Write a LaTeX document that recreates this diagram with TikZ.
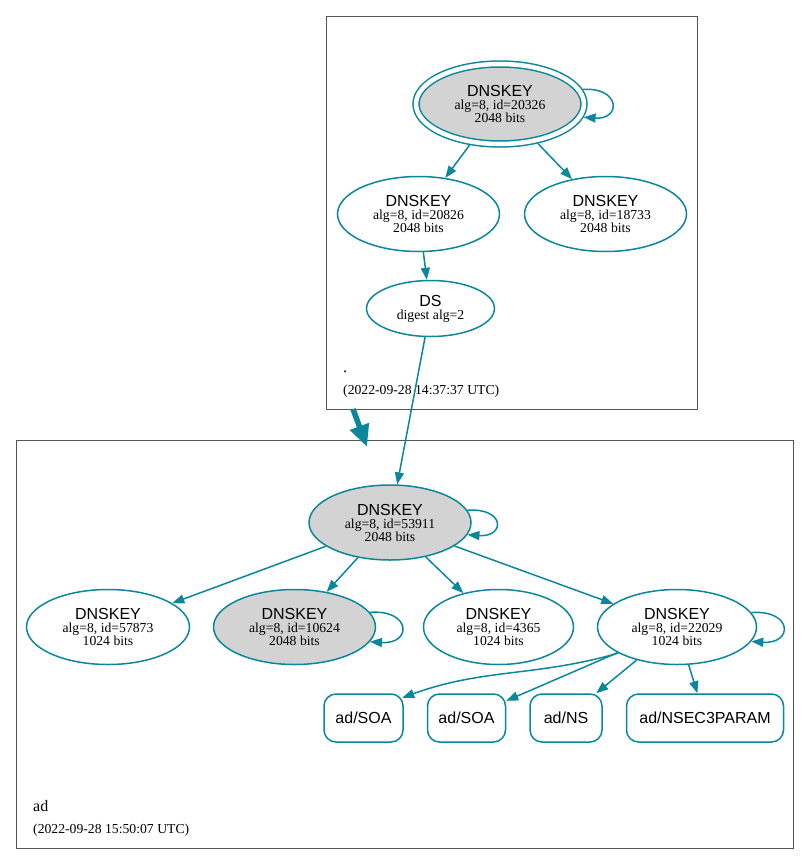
\documentclass[tikz,border=0pt]{standalone}
\usepackage{fontspec}
\setmainfont{Liberation Serif}
\setsansfont{Liberation Sans}
\usepackage{tikz}
\usetikzlibrary{arrows.meta,shapes.geometric,positioning}

\definecolor{dnsteal}{HTML}{0A879A}
\definecolor{zoneline}{HTML}{555555}
\definecolor{sepfill}{HTML}{D3D3D3}

\newcommand{\keylabel}[2]{{\sffamily\fontsize{16}{16}\selectfont DNSKEY}\\alg=8, id=#1\\#2 bits}

\begin{document}
\begin{tikzpicture}[x=1pt,y=-1pt,>={Triangle[length=12pt,width=9pt]},
  every node/.style={inner sep=0pt},
  dnskey/.style={ellipse,draw=dnsteal,line width=1.5pt,align=center,
    minimum width=162pt,minimum height=75pt,font=\fontsize{13.7}{13}\selectfont},
  sepkey/.style={fill=sepfill},
  rrset/.style={rectangle,rounded corners=12pt,draw=dnsteal,line width=1.5pt,
    minimum height=48pt,font=\sffamily\fontsize{16}{16}\selectfont},
  zone/.style={draw=zoneline,line width=0.9pt},
  zonelabel/.style={anchor=base west,font=\fontsize{16}{16}\selectfont},
  zonetime/.style={anchor=base west,font=\fontsize{13.7}{13}\selectfont},
  keyloop/.style={out=4,in=-4,distance=38pt},
  signs/.style={->,color=dnsteal,line width=1.5pt}]
  \useasboundingbox (0,0) rectangle (811,865);

  \draw[zone] (326,16) rectangle (697,409);
  \draw[zone] (16,440) rectangle (793,848);

  \node[dnskey,sepkey,double,double distance=4.5pt,outer sep=3.7pt,
        minimum width=168pt,minimum height=80pt] (kRoot) at (500,104) {\keylabel{20326}{2048}};
  \node[dnskey] (kZskA) at (418.5,214) {\keylabel{20826}{2048}};
  \node[dnskey] (kZskB) at (605.5,214) {\keylabel{18733}{2048}};
  \node[dnskey,minimum width=128pt,minimum height=56pt] (dsAd) at (430.5,308.5)
    {{\sffamily\fontsize{16}{16}\selectfont DS}\\digest alg=2};
  \node[zonelabel] (lRoot) at (343,372) {.};
  \node[zonetime] (tRoot) at (343,394) {(2022-09-28 14:37:37 UTC)};

  \node[dnskey,sepkey] (kAd) at (390,522.5) {\keylabel{53911}{2048}};
  \node[dnskey,minimum width=163pt] (kA) at (108,627) {\keylabel{57873}{1024}};
  \node[dnskey,sepkey] (kB) at (294.5,627) {\keylabel{10624}{2048}};
  \node[dnskey,minimum width=150pt] (kC) at (498.5,627) {\keylabel{4365}{1024}};
  \node[dnskey,minimum width=159pt] (kD) at (677,627) {\keylabel{22029}{1024}};

  \node[rrset,minimum width=79pt] (rSoaA) at (363.5,718) {ad/SOA};
  \node[rrset,minimum width=78pt,right=23pt of rSoaA] (rSoaB) {ad/SOA};
  \node[rrset,minimum width=72pt,right=23pt of rSoaB] (rNs) {ad/NS};
  \node[rrset,minimum width=157pt,right=23pt of rNs] (rParam) {ad/NSEC3PARAM};
  \node[zonelabel] (lAd) at (33,811) {ad};
  \node[zonetime] (tAd) at (33,833) {(2022-09-28 15:50:07 UTC)};

  \coordinate (zRootOut) at (353,409);
  \coordinate (zAdIn) at (367,447);
  \draw[color=dnsteal,line width=5.5pt,-{Triangle[length=22pt,width=19pt]}] (zRootOut) -- (zAdIn);

  \path[signs]
  (kRoot.10) edge[keyloop] (kRoot.-9)
  (kRoot) edge (kZskA)
  (kRoot) edge (kZskB)
  (kZskA) edge (dsAd)
  (dsAd) edge (kAd)
  (kAd.9) edge[keyloop] (kAd.-9)
  (kAd) edge (kA)
  (kAd) edge (kB)
  (kAd) edge (kC)
  (kAd) edge (kD)
  (kB.11) edge[keyloop,distance=42pt] (kB.-11)
  (kD.11) edge[keyloop,distance=42pt] (kD.-11)
  (kD.204) edge[out=196,in=20] ([xshift=-1.5pt,yshift=-4.5pt]rSoaA.north east)
  (kD) edge (rSoaB)
  (kD) edge (rNs)
  (kD) edge (rParam)
  ;
\end{tikzpicture}
\end{document}
